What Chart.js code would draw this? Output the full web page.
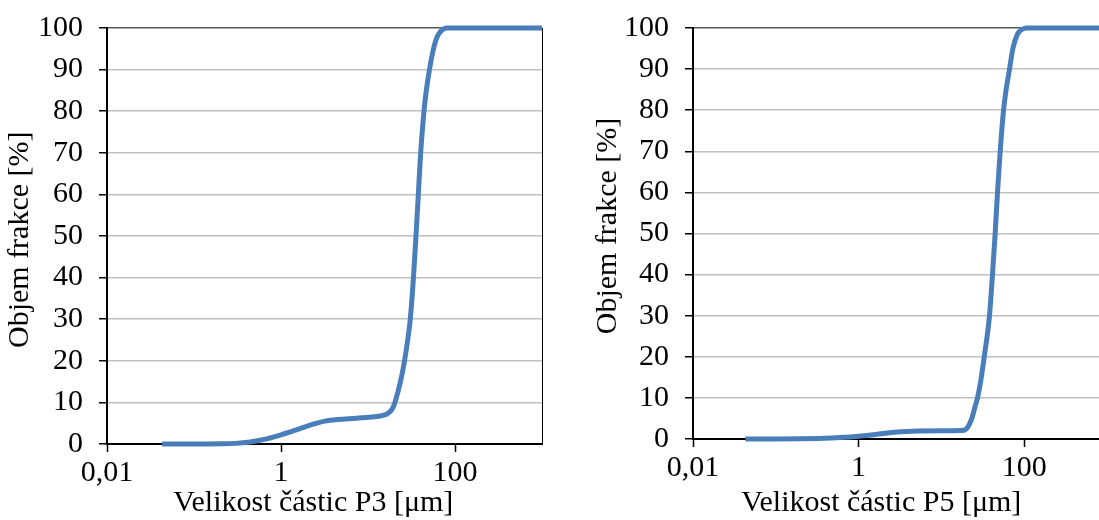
<!DOCTYPE html>
<html>
<head>
<meta charset="utf-8">
<script src="https://cdn.jsdelivr.net/npm/chart.js@4.4.0/dist/chart.umd.min.js"></script>
<style>
	body { margin: 0; width: 1099px; height: 520px; overflow: hidden; background: #fff; position: relative; }
	canvas { position: absolute; top: 0; }
	#p3-chart { left: 0; }
	#p5-chart { left: 588px; }
</style>
</head>
<body>
<canvas id="p3-chart" width="549" height="520"></canvas>
<canvas id="p5-chart" width="526" height="520"></canvas>
<script>
'use strict';

// particle size [um] and cumulative volume fraction [%]
const p3Size = [0.043, 0.1, 0.2, 0.3, 0.44, 0.7, 1, 1.5, 2.2, 3.2, 4.5, 7.4, 11, 14.4, 16.5, 18, 19.3, 20.4, 23.6,
	26.3, 28.6, 30.6, 33.3, 35.6, 37.9, 40.3, 44, 46.8, 50.9, 56.6, 61.3, 67.2, 80.9, 1000];
const p3Volume = [0, 0, 0.05, 0.15, 0.5, 1.3, 2.2, 3.4, 4.6, 5.5, 5.9, 6.2, 6.5, 6.8, 7.2, 7.8, 8.7, 10, 15,
	20, 25, 30, 40, 50, 60, 70, 80, 85, 90, 95, 97.5, 99, 100, 100];

const p5Size = [0.043, 0.1, 0.2, 0.33, 0.6, 1, 1.6, 2.9, 5.25, 10, 17.3, 20.3, 23.3, 25.6, 27.3, 29.8, 32.9,
	38.1, 41.4, 44.6, 47.6, 51.3, 56.3, 60.5, 66.5, 73, 83, 95, 107, 1000];
const p5Volume = [0, 0, 0.05, 0.15, 0.35, 0.65, 1.1, 1.7, 1.95, 2, 2.05, 2.6, 5, 8, 10, 14, 20,
	30, 40, 50, 60, 70, 80, 85, 90, 95, 98.5, 99.7, 100, 100];

const xTickValues = [0.01, 1, 100];
const xTickLabels = ['0,01', '1', '100'];

const FONT = { family: 'Liberation Serif', size: 30 };
const NBSP = '\u00a0';

const rightBorder = {
	id: 'rightBorder',
	afterDraw(chart) {
		const { ctx, chartArea } = chart;
		ctx.save();
		ctx.strokeStyle = '#000';
		ctx.lineWidth = 1;
		ctx.beginPath();
		ctx.moveTo(chartArea.right + 0.5, chartArea.top);
		ctx.lineTo(chartArea.right + 0.5, chartArea.bottom);
		ctx.stroke();
		ctx.restore();
	},
};

function toPoints(sizes, volumes) {
	return sizes.map((s, i) => ({ x: s, y: volumes[i] }));
}

function getX(title, height) {
	return {
		type: 'logarithmic',
		min: 0.01,
		max: 1000,
		afterBuildTicks: (scale) => {
			scale.ticks = xTickValues.map((v) => ({ value: v }));
		},
		afterFit: (scale) => {
			scale.height = height;
		},
		ticks: {
			color: '#000',
			font: FONT,
			padding: 3,
			autoSkip: false,
			maxRotation: 0,
			callback: (value, index) => xTickLabels[index],
		},
		grid: {
			drawOnChartArea: false,
			tickColor: '#000',
			tickLength: 8,
			tickWidth: 1.5,
		},
		border: { color: '#000', width: 2 },
		title: {
			display: true,
			text: title,
			color: '#000',
			font: FONT,
			padding: { top: 0, bottom: -1 },
		},
	};
}

function getY(title, width) {
	return {
		min: 0,
		max: 100,
		afterFit: (scale) => {
			scale.width = width;
			scale.paddingTop = 0;
			scale.paddingBottom = 0;
		},
		ticks: {
			stepSize: 10,
			color: '#000',
			font: FONT,
			padding: 16,
		},
		grid: {
			color: (c) => (c.tick && c.tick.value === 100 ? '#595959' : '#c0c0c0'),
			lineWidth: 1.5,
			tickColor: '#000',
			tickLength: 8,
			tickWidth: 1.5,
		},
		border: { color: '#000', width: 2 },
		title: {
			display: true,
			text: title,
			color: '#000',
			font: FONT,
			padding: { top: 2, bottom: 4 },
		},
	};
}

function makeChart(id, sizes, volumes, titles, opts, plugins) {
	const ctx = document.querySelector(id).getContext('2d');
	return new Chart(ctx, {
		type: 'line',
		data: {
			datasets: [{
				data: toPoints(sizes, volumes),
				borderColor: '#4a7ebb',
				borderWidth: 5,
				pointRadius: 0,
				cubicInterpolationMode: 'monotone',
				clip: false,
			}],
		},
		options: {
			responsive: false,
			animation: false,
			layout: { padding: { top: 28, right: 7, left: 0, bottom: 0 } },
			plugins: {
				legend: { display: false },
				tooltip: { enabled: false },
			},
			scales: {
				x: getX(titles[0], opts.xHeight),
				y: getY(titles[1], opts.yWidth),
			},
		},
		plugins: plugins,
	});
}

makeChart('#p3-chart', p3Size, p3Volume,
	['Velikost částic P3 [μm]' + NBSP.repeat(3), 'Objem frakce [%]' + NBSP],
	{ xHeight: 76, yWidth: 107 }, [rightBorder]);
makeChart('#p5-chart', p5Size, p5Volume,
	['Velikost částic P5 [μm]' + NBSP.repeat(5), NBSP.repeat(2) + 'Objem frakce [%]'],
	{ xHeight: 81, yWidth: 105 }, []);
</script>
</body>
</html>
